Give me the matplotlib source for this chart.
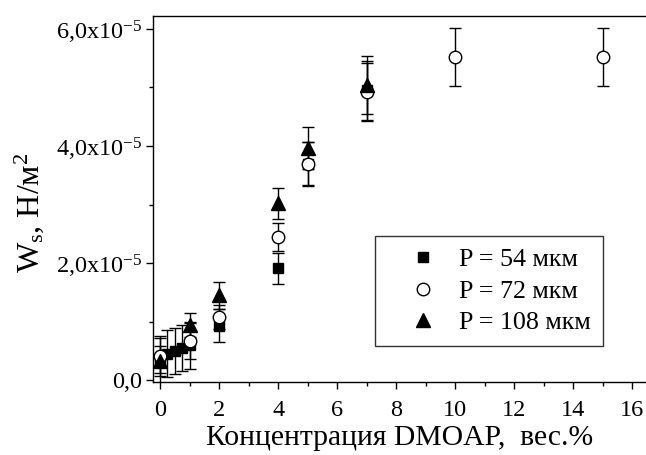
import numpy as np
import matplotlib
matplotlib.use('Agg')
import matplotlib.pyplot as plt
from matplotlib.ticker import MultipleLocator, FuncFormatter

# ---------------- data ----------------
x54 = [0, 0.25, 0.5, 0.75, 1.0, 2, 4, 5, 7]
w54 = [0.35, 0.45, 0.50, 0.55, 0.60, 0.93, 1.91, 3.70, 4.95]
e54 = [0.40, 0.40, 0.40, 0.40, 0.40, 0.28, 0.26, 0.37, 0.50]

x72 = [0, 1, 2, 4, 5, 7, 10, 15]
w72 = [0.42, 0.67, 1.08, 2.44, 3.69, 4.92, 5.52, 5.52]
e72 = [0.30, 0.30, 0.20, 0.24, 0.37, 0.50, 0.50, 0.50]

x108 = [0, 1, 2, 4, 5, 7]
w108 = [0.33, 0.94, 1.45, 3.02, 3.97, 5.04]
e108 = [0.25, 0.20, 0.23, 0.26, 0.36, 0.50]

labels = ['P = 54 мкм', 'P = 72 мкм', 'P = 108 мкм']
scale = 1e-5

plt.rcParams['font.family'] = ['Liberation Serif', 'DejaVu Serif']
plt.rcParams['mathtext.fontset'] = 'custom'
plt.rcParams['mathtext.rm'] = 'Liberation Serif'
plt.rcParams['mathtext.it'] = 'Liberation Serif:italic'

fig = plt.figure(figsize=(6.46, 4.55), dpi=100)
ax = fig.add_axes([153/646, 73/455, 493/646, 366/455])

kw = dict(ls='none', ecolor='black', elinewidth=1.0, capsize=4, capthick=1.0)
ax.errorbar(x54, np.array(w54)*scale, yerr=np.array(e54)*scale, marker='s',
            ms=7.5, mfc='black', mec='black', label=labels[0], **kw)
ax.errorbar(x72, np.array(w72)*scale, yerr=np.array(e72)*scale, marker='o',
            ms=9, mfc='white', mec='black', mew=1.0, label=labels[1], **kw)
ax.errorbar(x108, np.array(w108)*scale, yerr=np.array(e108)*scale, marker='^',
            ms=10, mfc='black', mec='black', label=labels[2], **kw)

ax.set_xlim(-0.24, 16.47)
ax.set_ylim(-0.03e-5, 6.22e-5)

ax.xaxis.set_major_locator(MultipleLocator(2))
ax.xaxis.set_minor_locator(MultipleLocator(1))
ax.yaxis.set_major_locator(MultipleLocator(2e-5))
ax.yaxis.set_minor_locator(MultipleLocator(1e-5))

def yfmt(v, pos):
    m = v / 1e-5
    if abs(m) < 1e-9:
        return '0,0'
    return ('%.1f' % m).replace('.', ',') + r'x10$^{\mathrm{-5}}$'

ax.yaxis.set_major_formatter(FuncFormatter(yfmt))
ax.tick_params(which='major', direction='out', length=5, width=1, labelsize=17.5)
ax.tick_params(which='minor', direction='out', length=3, width=1)
ax.tick_params(axis='x', pad=8)
ax.tick_params(axis='y', pad=3)
ax.spines['right'].set_visible(False)
for s in ['left', 'bottom', 'top']:
    ax.spines[s].set_linewidth(1.0)

ax.set_xlabel('Концентрация DMOAP,  вес.%', fontsize=21.3, labelpad=3)
fig.text(29/646, 1 - 213/455, r'W$_{\mathrm{s}}$, Н/м$^{\mathrm{2}}$', rotation=90,
         fontsize=23, ha='center', va='center')

handles, lbls = ax.get_legend_handles_labels()
handles = [h[0] for h in handles]
leg = ax.legend(handles, lbls, loc='upper left', bbox_to_anchor=(375/646, 1 - 236/455),
                bbox_transform=fig.transFigure, borderaxespad=0, fontsize=18.7,
                frameon=True, fancybox=False, handlelength=2.8, labelspacing=0.33,
                borderpad=0.45, handletextpad=0.0, numpoints=1)
leg.get_frame().set_edgecolor('black')
leg.get_frame().set_linewidth(1.0)

fig.savefig('out.png', dpi=100)
